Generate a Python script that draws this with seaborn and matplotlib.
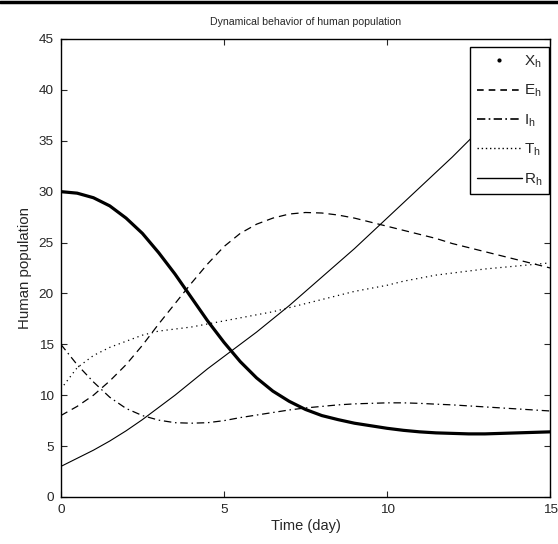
import pandas as pd
import matplotlib.pyplot as plt
import matplotlib.lines as mlines
import seaborn as sns

# time grid (days) and the five compartments
t = [0, 0.5, 1, 1.5, 2, 2.5, 3, 3.5, 4, 4.5, 5, 5.5, 6, 6.5, 7, 7.5,
     8, 8.5, 9, 9.5, 10, 10.5, 11, 11.5, 12, 12.5, 13, 13.5, 14, 14.5, 15]
X_h = [30, 29.85, 29.4, 28.6, 27.4, 25.9, 24.0, 21.9, 19.6, 17.3, 15.2, 13.3,
       11.7, 10.4, 9.4, 8.6, 8.0, 7.6, 7.25, 7.0, 6.75, 6.55, 6.4, 6.3, 6.25,
       6.2, 6.2, 6.25, 6.3, 6.35, 6.4]
E_h = [8.0, 8.9, 10.0, 11.4, 13.0, 14.9, 17.0, 19.0, 21.0, 22.9, 24.6, 25.9,
       26.8, 27.4, 27.8, 27.95, 27.9, 27.7, 27.4, 27.0, 26.6, 26.2, 25.8, 25.4,
       24.9, 24.5, 24.1, 23.7, 23.3, 22.9, 22.5]
I_h = [15.0, 13.0, 11.3, 9.8, 8.7, 8.0, 7.55, 7.3, 7.25, 7.3, 7.5, 7.8, 8.05,
       8.3, 8.55, 8.75, 8.9, 9.05, 9.15, 9.2, 9.25, 9.25, 9.2, 9.12, 9.05,
       8.95, 8.85, 8.75, 8.65, 8.55, 8.45]
T_h = [10.6, 12.7, 13.9, 14.7, 15.3, 15.9, 16.3, 16.5, 16.7, 17.0, 17.3, 17.6,
       17.9, 18.2, 18.6, 19.0, 19.4, 19.8, 20.2, 20.5, 20.8, 21.2, 21.5, 21.8,
       22.0, 22.2, 22.4, 22.55, 22.7, 22.85, 23.0]
R_h = [3.0, 3.8, 4.6, 5.5, 6.5, 7.6, 8.8, 10.0, 11.3, 12.6, 13.8, 15.0, 16.2,
       17.5, 18.8, 20.2, 21.6, 23.0, 24.4, 25.9, 27.4, 28.9, 30.4, 31.9, 33.4,
       35.0, 36.6, 38.2, 39.8, 41.4, 43.0]

df = pd.DataFrame({'t': t, 'X_h': X_h, 'E_h': E_h, 'I_h': I_h,
                   'T_h': T_h, 'R_h': R_h})

sns.set_style('ticks')
plt.rcParams['font.family'] = ['Liberation Sans', 'DejaVu Sans']
plt.rcParams['mathtext.default'] = 'regular'

fig = plt.figure(figsize=(5.58, 5.44), dpi=100)
ax = fig.add_axes([0.109, 0.0864, 0.877, 0.842])

sns.lineplot(data=df, x='t', y='X_h', color='black', lw=2.3, ax=ax)
sns.lineplot(data=df, x='t', y='E_h', color='black', lw=0.9, ax=ax)
ax.lines[-1].set_dashes([6, 4])
sns.lineplot(data=df, x='t', y='I_h', color='black', lw=0.9, ax=ax)
ax.lines[-1].set_dashes([6, 3, 1.2, 3])
sns.lineplot(data=df, x='t', y='T_h', color='black', lw=0.9, ax=ax)
ax.lines[-1].set_dashes([1, 3])
sns.lineplot(data=df, x='t', y='R_h', color='black', lw=0.8, ax=ax)

ax.set_xlim(0, 15)
ax.set_ylim(0, 45)
ax.set_xticks([0, 5, 10, 15])
ax.set_yticks(range(0, 46, 5))
ax.tick_params(direction='in', top=True, right=True, length=4,
               labelsize=9.7, width=0.8, pad=5)
for s in ax.spines.values():
    s.set_linewidth(1.0)
    s.set_color('black')

ax.set_title('Dynamical behavior of human population', fontsize=7.6, pad=10)
ax.set_xlabel('Time (day)', fontsize=10.5, labelpad=2)
ax.set_ylabel('Human population', fontsize=10.8, labelpad=5)

handles = [
    mlines.Line2D([], [], color='black', ls='none', marker='.', ms=4),
    mlines.Line2D([], [], color='black', lw=1.2, dashes=[4, 3]),
    mlines.Line2D([], [], color='black', lw=1.2, dashes=[5, 2, 1, 2]),
    mlines.Line2D([], [], color='black', lw=1.0, dashes=[1, 2]),
    mlines.Line2D([], [], color='black', lw=1.0),
]
labels = ['X$_h$', 'E$_h$', 'I$_h$', 'T$_h$', 'R$_h$']
leg = ax.legend(handles, labels, loc='upper right',
                bbox_to_anchor=(0.998, 0.983), borderaxespad=0,
                fontsize=11, handlelength=2.9, handletextpad=0.15,
                labelspacing=0.85, borderpad=0.45, fancybox=False,
                framealpha=1, edgecolor='black')
leg.get_frame().set_linewidth(1.0)

# black rule across the top of the figure
fig.add_artist(mlines.Line2D([0, 1], [0.997, 0.997], color='black',
                             lw=2.5, transform=fig.transFigure))

fig.savefig('out.png', dpi=100)
